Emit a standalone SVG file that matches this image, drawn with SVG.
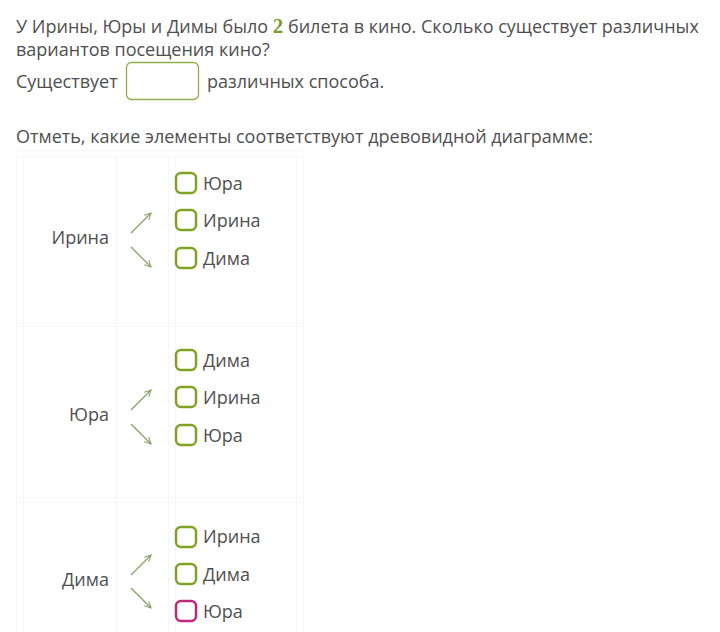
<svg xmlns="http://www.w3.org/2000/svg" width="720" height="632" viewBox="0 0 720 632">
<defs>
<style>
.t{font-family:"Open Sans","Liberation Sans",sans-serif;font-size:18px;fill:#4f4f4f}
.n{font-family:"Liberation Serif",serif;font-size:21px;font-weight:bold;fill:#7a9a2a}
.g{stroke:#f7f7f7;stroke-width:1;fill:none}
.cb{fill:#fff;stroke:#7fa425;stroke-width:2.5}
.cbm{fill:#fff;stroke:#c0287a;stroke-width:2.5}
.ar{stroke:#86a266;stroke-width:1.3;fill:none;marker-end:url(#ah)}
</style>
<marker id="ah" viewBox="0 0 10 10" refX="9" refY="5" markerWidth="8" markerHeight="8" orient="auto" markerUnits="userSpaceOnUse">
<path d="M1,1 L9,5 L1,9" fill="none" stroke="#86a266" stroke-width="1.3"/>
</marker>
</defs>
<rect width="720" height="632" fill="#fff"/>
<g id="question">
<text class="t" x="16" y="33">У Ирины, Юры и Димы было <tspan class="n">2</tspan> билета в кино. Сколько существует различных</text>
<text class="t" x="16" y="56">вариантов посещения кино?</text>
<text class="t" x="16" y="88">Существует</text>
<rect x="126.5" y="62.5" width="72" height="37" rx="5" fill="#fff" stroke="#8fae4a" stroke-width="1.3"/>
<text class="t" x="207" y="88">различных способа.</text>
<text class="t" x="16" y="143">Отметь, какие элементы соответствуют древовидной диаграмме:</text>
</g>
<g id="grid">
<line class="g" x1="16.5" y1="150" x2="16.5" y2="632"/>
<line class="g" x1="303.5" y1="150" x2="303.5" y2="632"/>
<line class="g" x1="16" y1="150.5" x2="304" y2="150.5"/>
<line class="g" x1="23.5" y1="156" x2="23.5" y2="632"/>
<line class="g" x1="115.5" y1="156" x2="115.5" y2="632"/>
<line class="g" x1="117.5" y1="156" x2="117.5" y2="632"/>
<line class="g" x1="168.5" y1="156" x2="168.5" y2="632"/>
<line class="g" x1="175.5" y1="156" x2="175.5" y2="632"/>
<line class="g" x1="296.5" y1="156" x2="296.5" y2="632"/>
<line class="g" x1="16" y1="156.5" x2="304" y2="156.5"/>
<line class="g" x1="16" y1="323.5" x2="304" y2="323.5"/>
<line class="g" x1="16" y1="326.5" x2="304" y2="326.5"/>
<line class="g" x1="16" y1="497.5" x2="304" y2="497.5"/>
<line class="g" x1="16" y1="502.5" x2="304" y2="502.5"/>
</g>
<g id="node-irina">
<text class="t" x="109" y="244" text-anchor="end">Ирина</text>
<rect class="cb" x="176" y="173" width="20" height="20" rx="5"/>
<text class="t" x="203" y="190">Юра</text>
<rect class="cb" x="176" y="210" width="20" height="20" rx="5"/>
<text class="t" x="203" y="227">Ирина</text>
<rect class="cb" x="176" y="248" width="20" height="20" rx="5"/>
<text class="t" x="203" y="265">Дима</text>
</g>
<g id="node-yura">
<text class="t" x="109" y="421" text-anchor="end">Юра</text>
<rect class="cb" x="176" y="350" width="20" height="20" rx="5"/>
<text class="t" x="203" y="367">Дима</text>
<rect class="cb" x="176" y="387" width="20" height="20" rx="5"/>
<text class="t" x="203" y="404">Ирина</text>
<rect class="cb" x="176" y="425" width="20" height="20" rx="5"/>
<text class="t" x="203" y="442">Юра</text>
</g>
<g id="node-dima">
<text class="t" x="109" y="586" text-anchor="end">Дима</text>
<rect class="cb" x="176" y="527" width="20" height="20" rx="5"/>
<text class="t" x="203" y="543">Ирина</text>
<rect class="cb" x="176" y="564" width="20" height="20" rx="5"/>
<text class="t" x="203" y="581">Дима</text>
<rect class="cbm" x="176" y="601" width="20" height="20" rx="5"/>
<text class="t" x="203" y="618">Юра</text>
</g>
<g id="connectors">
<line class="ar" x1="131" y1="233" x2="151" y2="213"/>
<line class="ar" x1="131" y1="247" x2="151" y2="267"/>
<line class="ar" x1="131" y1="410" x2="151" y2="390"/>
<line class="ar" x1="131" y1="424" x2="151" y2="444"/>
<line class="ar" x1="131" y1="575" x2="151" y2="555"/>
<line class="ar" x1="131" y1="588" x2="151" y2="608"/>
</g>
</svg>
